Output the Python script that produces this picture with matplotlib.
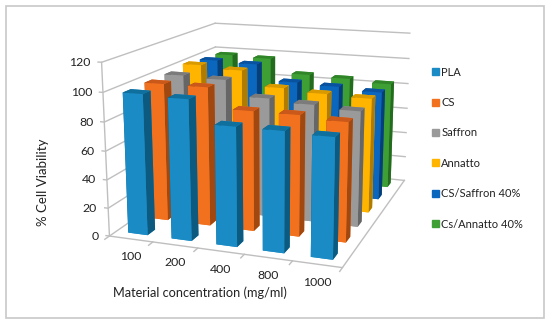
#!/usr/bin/env python3
"""3D bar chart of cell viability per material and concentration."""

import matplotlib
matplotlib.use("Agg")
import matplotlib.patches as mpatches
import matplotlib.pyplot as plt
from mpl_toolkits.mplot3d import proj3d

plt.rcParams["font.family"] = ["Lato", "DejaVu Sans"]

concentrations = ["100", "200", "400", "800", "1000"]
materials = ["PLA", "CS", "Saffron", "Annatto", "CS/Saffron 40%", "Cs/Annatto 40%"]
z_ticks = [0, 20, 40, 60, 80, 100, 120]

pla = [98.5, 97.5, 82, 82, 81]
cs = [99, 99, 85, 85, 83]
saffron = [99, 98, 87, 85, 83]
annatto = [101, 99, 88, 86, 85]
cs_saffron = [99, 98, 86, 85, 83]
cs_annatto = [98, 97, 86, 85, 83]
values = [pla, cs, saffron, annatto, cs_saffron, cs_annatto]

# front, side, top
colours = [
    ("#1a8bc4", "#0c5a80", "#0f6f9d"),
    ("#f2711e", "#a0480f", "#c9581a"),
    ("#9a9a9a", "#666666", "#7b7b7b"),
    ("#ffb400", "#b07c00", "#d99a00"),
    ("#0b66bd", "#063f77", "#0952a0"),
    ("#3e9f34", "#256b1f", "#308528"),
]
GRID = "#bfbfbf"
TEXT = "#222222"
BAR_W = 0.45
BAR_D = 0.36

W, H = 550, 323
fig = plt.figure(figsize=(W / 100, H / 100), dpi=100)
# position worked out from the wall corners in the reference
size = 370.84
ax = fig.add_axes([79.2 / W, 4.72 / H, size / W, size / H], projection="3d")
ax.set_proj_type("persp", focal_length=0.469)
ax.view_init(14.405, -70.513)
ax.set_xlim(-0.5, 4.5)
ax.set_ylim(-0.5, 5.5)
ax.set_zlim(0, 120)
ax.set_box_aspect((1.366, 1.589, 1.0))
ax.set_axis_off()
ax.computed_zorder = False

x0, x1, y0, y1 = -0.5, 4.5, -0.5, 5.5
line = dict(color=GRID, lw=1, zorder=1)
M = ax.get_proj()


def tick_label(x, y, z, text, dx, dy, ha):
    px, py, _ = proj3d.proj_transform(x, y, z, M)
    ax.annotate(text, xy=(px, py), xycoords="data", xytext=(dx, dy), textcoords="offset pixels",
                ha=ha, va="center", fontsize=8.8, color=TEXT, annotation_clip=False)


# walls
for z in z_ticks:
    ax.plot([x0 - 0.08, x0, x0], [y0, y0, y1], [z, z, z], **line)
    ax.plot([x0, x1], [y1, y1], [z, z], **line)
    tick_label(x0, y0, z, str(z), -11, 0, "right")
ax.plot([x0, x0], [y0, y0], [0, 120], **line)

# floor edges and category ticks
ax.plot([x0, x1, x1], [y0, y0, y1], [0, 0, 0], **line)
for i in range(len(concentrations) + 1):
    ax.plot([x0 + i, x0 + i], [y0, y0 - 0.2], [0, 0], **line)
for i, label in enumerate(concentrations):
    tick_label(i, y0, 0, label, 0, -18, "center")

# far bars first, then towards the camera
order = 2
for s in range(len(materials) - 1, -1, -1):
    front, side, top = colours[s]
    for c in range(len(concentrations)):
        ax.bar3d(
            c - BAR_W / 2, s - BAR_D / 2, 0, BAR_W, BAR_D, values[s][c],
            # -z, +z, -y, +y, -x, +x
            color=[front, top, front, front, side, side],
            shade=False, zorder=order,
        )
        order += 1

handles = [mpatches.Patch(color=colours[i][0], label=m) for i, m in enumerate(materials)]
fig.legend(
    handles=handles, loc="upper left", bbox_to_anchor=(432 / W, 1 - 66.5 / H),
    frameon=False, fontsize=8, labelcolor=TEXT, handlelength=0.6, handleheight=0.6,
    handletextpad=0.25, labelspacing=1.75, borderpad=0, borderaxespad=0,
)

fig.text(43 / W, 1 - 182 / H, "% Cell Viability", rotation=90, ha="center", va="center",
         fontsize=9.5, color=TEXT)
fig.text(200 / W, 1 - 293 / H, "Material concentration (mg/ml)", ha="center", va="center",
         fontsize=9.2, color=TEXT)

fig.add_artist(mpatches.Rectangle(
    (5.5 / W, 1 - 317.5 / H), 538 / W, 312 / H, transform=fig.transFigure,
    fill=False, edgecolor="#c8c8c8", lw=1.2,
))

fig.savefig("out.png", dpi=100)
